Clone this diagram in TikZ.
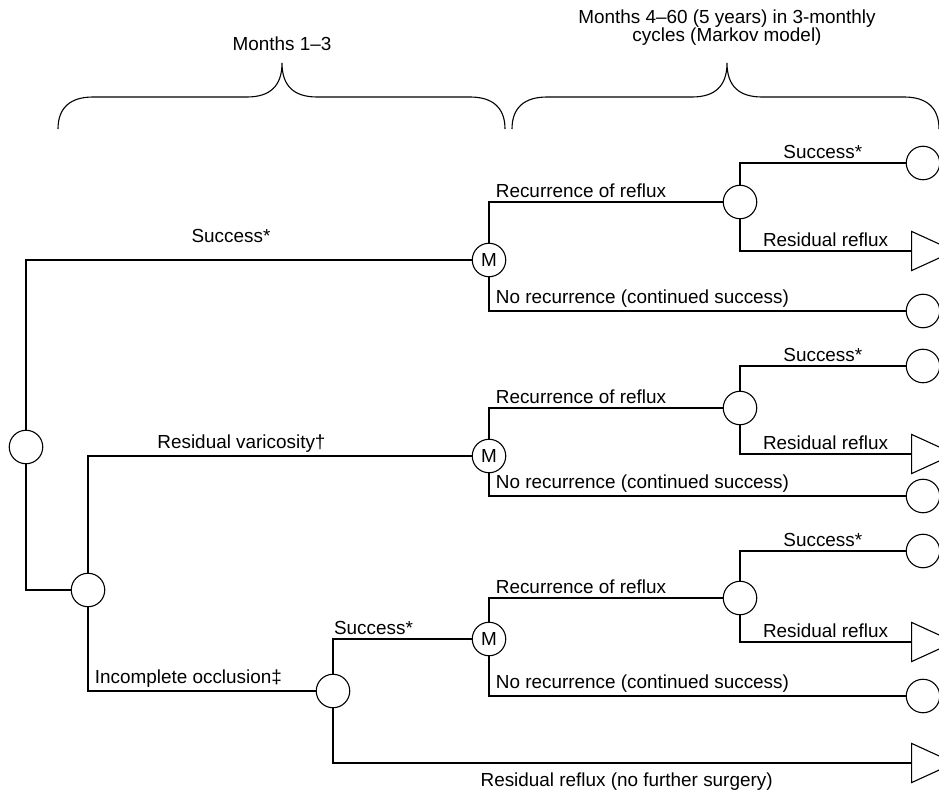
\documentclass[tikz,border=0pt]{standalone}
\usepackage{fontspec}
\setmainfont{Liberation Sans}
\usetikzlibrary{shapes.geometric}
\tikzset{%
  every edge/.style={    % square branches of the tree
    draw,
    line width=1.1pt,
    to path={|- (\tikztotarget) \tikztonodes}},
  chance/.style={
    circle, draw, line width=1.1pt,
    minimum size=33.5pt, inner sep=0pt},
  payoff/.style={
    isosceles triangle, isosceles triangle apex angle=49,
    draw, line width=1.1pt, inner sep=0pt,
    minimum height=43pt, anchor=west},
  tag/.style={above, pos=.75},
  tagleft/.style={anchor=south west, pos=.5, xshift=3pt},
  brace/.style={line width=1.1pt}
}

\begin{document}
\begin{tikzpicture}[x=1pt, y=-1pt, font=\fontsize{18.9}{17.5}\selectfont]
    \clip (0,0) rectangle (939,791);

    % stages
    \draw[brace] (58,129) .. controls (58,108) and (70,97) .. (93,97)
      -- (247,97) .. controls (270,97) and (282,86) .. (282,63)
      .. controls (282,86) and (294,97) .. (317,97)
      -- (470,97) .. controls (493,97) and (505,108) .. (505,129);
    \draw[brace] (512,129) .. controls (512,108) and (524,97) .. (547,97)
      -- (692,97) .. controls (715,97) and (727,86) .. (727,63)
      .. controls (727,86) and (739,97) .. (762,97)
      -- (904,97) .. controls (927,97) and (939,108) .. (939,129);
    \node[anchor=base] (early) at (282,51) {Months 1–3};
    \node[anchor=north, align=center] (late) at (727,6)
      {Months 4–60 (5 years) in 3-monthly\\cycles (Markov model)};

    % first three months
    \node[chance] (R) at (26,447) {};
    \node[chance] (N2) at (88,590) {};
    \node[chance] (N3) at (333,691) {};
    \node[payoff] (E) at (911,763) {};

    % markov nodes
    \node[chance] (M1) at (489,260) {M};
    \node[chance] (M2) at (489,456) {M};
    \node[chance] (M3) at (489,639) {M};

    \node[chance] (C1) at (740,202) {};
    \node[chance] (C2) at (740,408) {};
    \node[chance] (C3) at (740,598) {};

    \node[chance] (S1) at (923,163) {};
    \node[chance] (S2) at (923,366) {};
    \node[chance] (S3) at (923,551) {};
    \node[payoff] (F1) at (911,251) {};
    \node[payoff] (F2) at (911,454) {};
    \node[payoff] (F3) at (911,642) {};
    \node[chance] (K1) at (923,311) {};
    \node[chance] (K2) at (923,496) {};
    \node[chance] (K3) at (923,696) {};

    \draw
      (R) edge node[tag, pos=.73, yshift=13pt] {Success*} (M1)
      (R) edge (N2)
      (N2) edge node[tag, pos=.7] {Residual varicosity†} (M2)
      (N2) edge node[tagleft] {Incomplete occlusion‡} (N3)
      (N3) edge node[tag, pos=.646] {Success*} (M3)
      (N3) edge node[below, pos=.754, yshift=-6pt]
        {Residual reflux (no further surgery)} (E)
    ;

    \draw
      (M1) edge node[tagleft] {Recurrence of reflux} (C1)
      (M1) edge node[tagleft] {No recurrence (continued success)} (K1)
      (C1) edge node[tag] {Success*} (S1)
      (C1) edge node[tag] {Residual reflux} (F1)
      (M2) edge node[tagleft] {Recurrence of reflux} (C2)
      (M2) edge node[tagleft] {No recurrence (continued success)} (K2)
      (C2) edge node[tag] {Success*} (S2)
      (C2) edge node[tag] {Residual reflux} (F2)
      (M3) edge node[tagleft] {Recurrence of reflux} (C3)
      (M3) edge node[tagleft] {No recurrence (continued success)} (K3)
      (C3) edge node[tag] {Success*} (S3)
      (C3) edge node[tag] {Residual reflux} (F3)
    ;

\end{tikzpicture}
\end{document}
